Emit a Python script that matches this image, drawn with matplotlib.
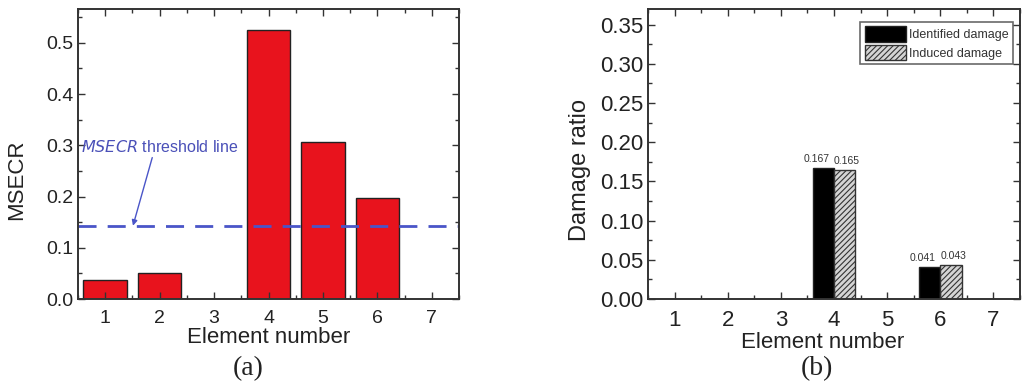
import numpy as np
import matplotlib
matplotlib.use("Agg")
import matplotlib.pyplot as plt
from matplotlib.ticker import MultipleLocator, FormatStrFormatter

plt.rcParams['font.family'] = ['Liberation Sans', 'DejaVu Sans']
plt.rcParams['hatch.linewidth'] = 0.8

# Panel (a): modal strain energy change ratio per element
elements = [1, 2, 3, 4, 5, 6, 7]
msecr = [0.037, 0.051, 0.0, 0.525, 0.306, 0.197, 0.0]
threshold = 0.143

# Panel (b): damage ratio per element
identified = [0.0, 0.0, 0.0, 0.167, 0.0, 0.041, 0.0]
induced = [0.0, 0.0, 0.0, 0.165, 0.0, 0.043, 0.0]

fig = plt.figure(figsize=(10.22, 3.86), dpi=100)
W, H = 1022, 386
ax1 = fig.add_axes([78 / W, 1 - 299 / H, (459 - 78) / W, (299 - 9) / H])
ax2 = fig.add_axes([648 / W, 1 - 299 / H, (1020 - 648) / W, (299 - 9) / H])


def style(ax, size):
    ax.tick_params(direction='in', which='both', top=True, right=True,
                   labelsize=size, width=1.0, colors='#333333', labelcolor='#222222')
    ax.tick_params(which='major', length=5)
    ax.tick_params(which='minor', length=3)
    ax.tick_params(axis='x', pad=8)
    for s in ax.spines.values():
        s.set_linewidth(1.4)
        s.set_color('#333333')
    ax.set_xticks(elements)
    ax.xaxis.set_minor_locator(MultipleLocator(0.5))


# (a)
ax1.bar(elements, msecr, width=0.8, color='#e8131d', edgecolor='#222222', linewidth=1.0)
ax1.axhline(threshold, color='#4a55c8', linestyle=(0, (6.5, 4)), linewidth=2.0)
ax1.set_xlim(0.5, 7.5)
ax1.set_ylim(0, 0.566)
ax1.yaxis.set_major_locator(MultipleLocator(0.1))
ax1.yaxis.set_minor_locator(MultipleLocator(0.05))
ax1.yaxis.set_major_formatter(FormatStrFormatter('%.1f'))
style(ax1, 14)
ax1.set_xlabel('Element number', fontsize=16, labelpad=0, color='#222222')
ax1.set_ylabel('MSECR', fontsize=16, color='#222222', va='center')
ax1.yaxis.set_label_coords(-0.16, 0.41)
ax1.annotate(r'$\mathit{MSECR}$ threshold line', xy=(1.51, threshold), xytext=(0.55, 0.297),
             fontsize=11.5, color='#4a50b8', ha='left', va='center',
             arrowprops=dict(arrowstyle='-|>', color='#4a55c8', lw=1.0,
                             shrinkA=0, shrinkB=0, mutation_scale=8,
                             relpos=(0.46, 0.0)))
fig.text(248 / W, 1 - 369 / H, '(a)', fontsize=20, family=['Liberation Serif'],
         ha='center', va='center', color='#222222')

# (b)
x = np.array(elements)
ax2.bar(x - 0.2, identified, width=0.4, color='black', edgecolor='#222222',
        linewidth=1.0, label='Identified damage')
ax2.bar(x + 0.2, induced, width=0.4, color='#d4d4d4', edgecolor='#333333',
        linewidth=1.0, hatch='//////', label='Induced damage')
for xi, a, b in zip(x, identified, induced):
    if a > 0:
        ax2.text(xi - 0.08, a + 0.005, f'{a:.3f}', fontsize=7.5, ha='right', va='bottom', color='#333333')
    if b > 0:
        ax2.text(xi + 0.0, b + 0.005, f'{b:.3f}', fontsize=7.5, ha='left', va='bottom', color='#333333')
ax2.set_xlim(0.5, 7.5)
ax2.set_ylim(0, 0.37)
ax2.yaxis.set_major_locator(MultipleLocator(0.05))
ax2.yaxis.set_minor_locator(MultipleLocator(0.025))
ax2.yaxis.set_major_formatter(FormatStrFormatter('%.2f'))
style(ax2, 16)
ax2.set_xlabel('Element number', fontsize=16, labelpad=0, color='#222222')
ax2.xaxis.set_label_coords(0.47, -0.115)
ax2.set_ylabel('Damage ratio', fontsize=17, color='#222222', va='center')
ax2.yaxis.set_label_coords(-0.183, 0.445)
leg = ax2.legend(loc='upper right', bbox_to_anchor=(1013 / W, 1 - 22 / H),
                 bbox_transform=fig.transFigure, fontsize=9, frameon=True, fancybox=False,
                 handlelength=3.3, handleheight=1.5, borderpad=0.35, labelspacing=0.25,
                 handletextpad=0.25, borderaxespad=0.0)
leg.get_frame().set_edgecolor('#444444')
leg.get_frame().set_linewidth(1.2)
for t in leg.get_texts():
    t.set_color('#333333')
fig.text(817 / W, 1 - 369 / H, '(b)', fontsize=20, family=['Liberation Serif'],
         ha='center', va='center', color='#222222')

fig.savefig('out.png', dpi=100)
